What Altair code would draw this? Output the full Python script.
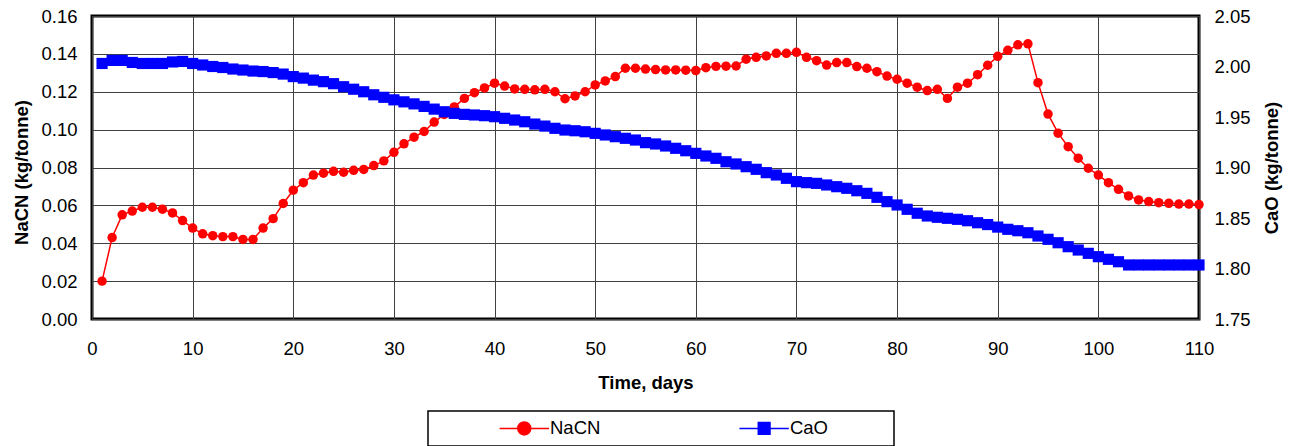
import altair as alt
import pandas as pd

days = list(range(1, 111))

nacn = [
    0.020, 0.043, 0.055, 0.057, 0.059, 0.059, 0.058, 0.056, 0.052, 0.048,
    0.045, 0.044, 0.0435, 0.0435, 0.042, 0.042, 0.048, 0.053, 0.061, 0.068,
    0.072, 0.076, 0.077, 0.078, 0.0775, 0.0785, 0.079, 0.081, 0.0835, 0.088,
    0.0925, 0.096, 0.099, 0.104, 0.108, 0.112, 0.1165, 0.1195, 0.122, 0.1245,
    0.123, 0.1215, 0.1213, 0.121, 0.1213, 0.120, 0.1163, 0.1178, 0.120, 0.1236,
    0.1257, 0.128, 0.1324, 0.1324, 0.132, 0.1317, 0.1315, 0.1315, 0.1314, 0.1312,
    0.1327, 0.1334, 0.1335, 0.1336, 0.1372, 0.1382, 0.1389, 0.1403, 0.1403, 0.1408,
    0.1382, 0.1364, 0.1341, 0.1354, 0.1354, 0.1333, 0.1324, 0.1306, 0.1283, 0.1266,
    0.1245, 0.1224, 0.1206, 0.1213, 0.1165, 0.1224, 0.1245, 0.129, 0.134, 0.1387,
    0.1419, 0.1448, 0.1453, 0.1248, 0.1082, 0.0981, 0.091, 0.0849, 0.0796, 0.076,
    0.072, 0.0685, 0.065, 0.0629, 0.062, 0.0614, 0.0611, 0.0607, 0.0607, 0.0604,
]

cao = [
    2.003, 2.006, 2.006, 2.004, 2.003, 2.003, 2.003, 2.0045, 2.005, 2.003,
    2.0015, 2.000, 1.999, 1.9975, 1.9965, 1.9955, 1.995, 1.994, 1.9925, 1.990,
    1.9885, 1.9865, 1.985, 1.983, 1.980, 1.9775, 1.975, 1.972, 1.9695, 1.967,
    1.965, 1.963, 1.9605, 1.9578, 1.9552, 1.9536, 1.9526, 1.952, 1.9513, 1.9503,
    1.9487, 1.947, 1.9453, 1.943, 1.941, 1.9388, 1.9371, 1.9364, 1.9354, 1.9338,
    1.9322, 1.9305, 1.9289, 1.9272, 1.9246, 1.9233, 1.9213, 1.919, 1.9166, 1.914,
    1.9114, 1.9091, 1.9057, 1.9035, 1.9008, 1.8982, 1.8949, 1.8926, 1.8893, 1.886,
    1.885, 1.8843, 1.8827, 1.881, 1.8794, 1.877, 1.8744, 1.8705, 1.8662, 1.8629,
    1.8586, 1.8547, 1.852, 1.8507, 1.8497, 1.8487, 1.8473, 1.8453, 1.8435, 1.841,
    1.8388, 1.8374, 1.8354, 1.8322, 1.8289, 1.8255, 1.8216, 1.8183, 1.815, 1.8117,
    1.8091, 1.8067, 1.8035, 1.8035, 1.8035, 1.8035, 1.8035, 1.8035, 1.8035, 1.8035,
]

series_names = ["NaCN", "CaO"]
series_colors = ["#FF0000", "#0000FF"]
x_ticks = [0, 10, 20, 30, 40, 50, 60, 70, 80, 90, 100, 110]
left_ticks = [0.00, 0.02, 0.04, 0.06, 0.08, 0.10, 0.12, 0.14, 0.16]
right_ticks = [1.75, 1.80, 1.85, 1.90, 1.95, 2.00, 2.05]

df = pd.DataFrame({"day": days, "NaCN": nacn, "CaO": cao})

FONT = "Liberation Sans"
FS = 18.5

x_enc = alt.X(
    "day:Q",
    scale=alt.Scale(domain=[0, 110], nice=False, zero=False),
    axis=alt.Axis(
        values=x_ticks, title="Time, days", grid=True, ticks=False, domain=False,
        labelPadding=20, labelFontSize=FS, labelFont=FONT, labelColor="black",
        titleFont=FONT, titleFontSize=FS, titleFontWeight="bold", titleColor="black",
        titleY=63, titleBaseline="middle",
        gridColor="#404040", gridWidth=1, labelFlush=False,
    ),
)

base = alt.Chart(df)

nacn_y = alt.Y(
    "NaCN:Q",
    scale=alt.Scale(domain=[0, 0.16], nice=False, zero=False),
    axis=alt.Axis(
        values=left_ticks, format=".2f", title="NaCN (kg/tonne)", grid=True,
        ticks=False, domain=False, labelPadding=15, labelFontSize=FS, labelFont=FONT,
        labelColor="black", titleFont=FONT, titleFontSize=FS, titleFontWeight="bold",
        titleColor="black", titleAngle=270, titleX=-71, titleY=156,
        titleAlign="center", titleBaseline="middle",
        gridColor="#404040", gridWidth=1,
    ),
)

cao_y = alt.Y(
    "CaO:Q",
    scale=alt.Scale(domain=[1.75, 2.05], nice=False, zero=False),
    axis=alt.Axis(
        orient="right", values=right_ticks, format=".2f", title="CaO (kg/tonne)",
        grid=False, ticks=False, domain=False, labelPadding=15, labelFontSize=FS,
        labelFont=FONT, labelColor="black", titleFont=FONT, titleFontSize=FS,
        titleFontWeight="bold", titleColor="black", titleAngle=270, titleX=72,
        titleY=151.5, titleAlign="center", titleBaseline="middle",
    ),
)

nacn_line = base.mark_line(color=series_colors[0], strokeWidth=1.5).encode(x=x_enc, y=nacn_y)
nacn_pts = base.mark_point(
    shape="circle", filled=True, color=series_colors[0], size=90, opacity=1
).encode(x=x_enc, y=nacn_y)

cao_line = base.mark_line(color=series_colors[1], strokeWidth=1.5).encode(x=x_enc, y=cao_y)
cao_pts = base.mark_point(
    shape="square", filled=True, color=series_colors[1], size=125, opacity=1
).encode(x=x_enc, y=cao_y)

# legend-only layer (no data rows drawn; the legend comes from the explicit domains)
circle_path = "M-3.8,0L3.8,0M-1,0A1,1,0,1,1,1,0A1,1,0,1,1,-1,0Z"
square_path = "M-3.8,0L3.8,0M-0.9,-0.9L0.9,-0.9L0.9,0.9L-0.9,0.9Z"
leg = alt.Legend(title="\u00a0", titleOrient="right", titlePadding=58)
legend_df = pd.DataFrame({"series": series_names})
legend_layer = (
    alt.Chart(legend_df)
    .transform_filter("false")
    .mark_point(filled=True, strokeWidth=1.5, opacity=1)
    .encode(
        fill=alt.Fill("series:N", scale=alt.Scale(domain=series_names, range=series_colors), legend=leg),
        stroke=alt.Stroke("series:N", scale=alt.Scale(domain=series_names, range=series_colors), legend=leg),
        shape=alt.Shape("series:N", scale=alt.Scale(domain=series_names, range=[circle_path, square_path]), legend=leg),
    )
)

chart = (
    alt.layer(
        alt.layer(nacn_line, nacn_pts),
        alt.layer(cao_line, cao_pts),
        legend_layer,
    )
    .resolve_scale(y="independent")
    .properties(
        width=1107, height=303,
        autosize=alt.AutoSizeParams(type="none"),
        padding={"left": 92, "top": 16, "right": 93, "bottom": 127},
        background="white",
    )
    .configure_view(stroke="black", strokeWidth=3)
    .configure_legend(
        orient="none", legendX=336, legendY=395, direction="horizontal",
        strokeColor="black", strokeWidth=1.5, padding=8, fillColor="white",
        symbolSize=169, symbolOffset=79, labelOffset=16.5, columnPadding=74.9,
        labelFont=FONT, labelFontSize=FS, labelColor="black", gridAlign="all",
        labelLimit=400, symbolStrokeWidth=1.5, titleFontSize=FS, titleFont=FONT,
    )
)

chart.save("out.html", embed_options={"renderer": "svg", "actions": False})
